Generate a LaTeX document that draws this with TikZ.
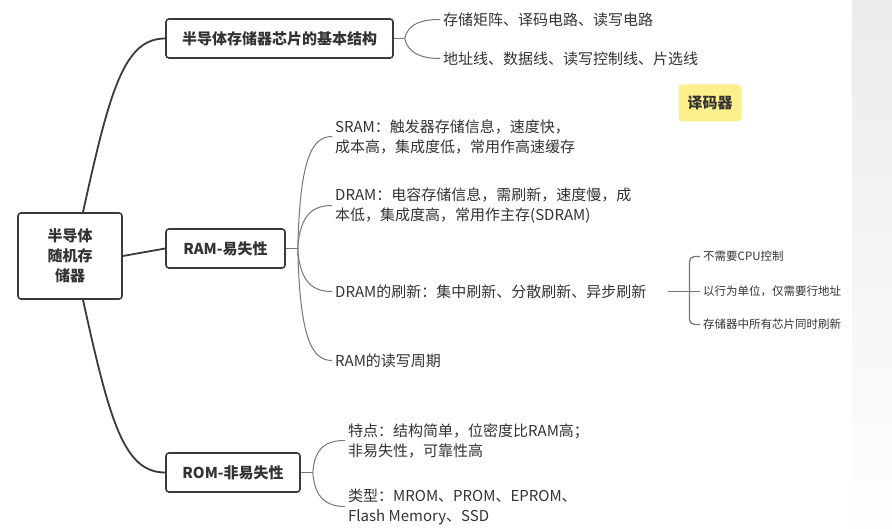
\documentclass[tikz,border=0pt]{standalone}
\usepackage{fontspec}
\setmainfont{Noto Sans CJK SC}
\usepackage{tikz}
\usetikzlibrary{positioning,calc}
\definecolor{ink}{RGB}{51,51,51}
\definecolor{frame}{RGB}{58,58,58}
\definecolor{twiggray}{RGB}{118,118,118}
\definecolor{memo}{RGB}{253,240,140}
\definecolor{panel}{RGB}{235,235,238}

\begin{document}
\begin{tikzpicture}[x=1pt,y=-1pt,
    topic/.style={draw=frame,line width=1.6pt,rounded corners=3pt,text=ink,
      font=\fontsize{15}{20}\selectfont\bfseries,align=center,inner sep=0pt},
    leaf/.style={anchor=west,text=ink,font=\fontsize{15}{20}\selectfont,
      align=left,inner xsep=3pt,inner ysep=0pt},
    smallleaf/.style={leaf,font=\fontsize{11.5}{14}\selectfont},
    trunk/.style={frame,line width=1.8pt},
    twig/.style={twiggray,line width=1pt}]
  \useasboundingbox (0,0) rectangle (892,529);
  \shade[top color=panel,bottom color=white!97!panel] (852,0) rectangle (892,529);

  \node[topic,minimum width=104,minimum height=86] (root) at (70,256) {半导体\\随机存\\储器};
  \node[topic,minimum width=227,minimum height=39] (chip) at (279.5,38.5) {半导体存储器芯片的基本结构};
  \node[topic,minimum width=119,minimum height=39] (ram) at (225.5,248.5) {RAM-易失性};
  \node[topic,minimum width=134,minimum height=39] (rom) at (233,472.5) {ROM-非易失性};

  \node[leaf] (chipa) at (440,19.5) {存储矩阵、译码电路、读写电路};
  \node[leaf] (chipb) at (440,58.5) {地址线、数据线、读写控制线、片选线};

  \node[leaf] (sram) at (332,136.5) {SRAM：触发器存储信息，速度快，\\成本高，集成度低，常用作高速缓存};
  \node[leaf] (dram) at (332,205.5) {DRAM：电容存储信息，需刷新，速度慢，成\\本低，集成度高，常用作主存(SDRAM)};
  \node[leaf] (refresh) at (332,291.5) {DRAM的刷新：集中刷新、分散刷新、异步刷新};
  \node[leaf] (cycle) at (332,360.5) {RAM的读写周期};

  \node[leaf] (romfeat) at (345,440.5) {特点：结构简单，位密度比RAM高；\\非易失性，可靠性高};
  \node[leaf] (romtype) at (345,506.5) {类型：MROM、PROM、EPROM、\\Flash Memory、SSD};

  \node[smallleaf] (nocpu) at (700,256.5) {不需要CPU控制};
  \node[smallleaf] (byrow) at (700,291.5) {以行为单位，仅需要行地址};
  \node[smallleaf] (allchip) at (700,324.5) {存储器中所有芯片同时刷新};

  \node[fill=memo,rounded corners=4pt,minimum width=63,minimum height=37,text=ink,
    font=\fontsize{15}{20}\selectfont\bfseries] (decoder) at (710,103) {译码器};

  \draw[trunk] ([xshift=13pt]root.north) .. controls +(27,-123) and +(-41,0) .. (chip.west);
  \draw[trunk] (root.east) -- (ram.west);
  \draw[trunk] ([xshift=13pt]root.south) .. controls +(27,123) and +(-41,0) .. (rom.west);

  \draw[twig] (chip.east) -- +(11,0) coordinate (chipj);
  \draw[twig] (chipj) .. controls +(3,-15) and +(-18,0) .. (chipa.west);
  \draw[twig] (chipj) .. controls +(3,15) and +(-18,0) .. (chipb.west);

  \draw[twig] (ram.east) -- +(12,0) coordinate (ramj);
  \draw[twig] (ramj) .. controls +(2,-90) and +(-20,0) .. (sram.west);
  \draw[twig] (ramj) .. controls +(2,-35) and +(-18,0) .. (dram.west);
  \draw[twig] (ramj) .. controls +(2,35) and +(-18,0) .. (refresh.west);
  \draw[twig] (ramj) .. controls +(2,90) and +(-20,0) .. (cycle.west);

  \draw[twig] (rom.east) -- +(12,0) coordinate (romj);
  \draw[twig] (romj) .. controls +(2,-26) and +(-18,0) .. (romfeat.west);
  \draw[twig] (romj) .. controls +(2,26) and +(-18,0) .. (romtype.west);

  \coordinate (refj) at ([xshift=-10.5pt]byrow.west);
  \draw[twig,line width=1.3pt] (refresh.east) ++(19,0) -- (byrow.west);
  \draw[twig,line width=1.3pt,rounded corners=5pt] (nocpu.west) -| (refj) |- (allchip.west);
\end{tikzpicture}
\end{document}
